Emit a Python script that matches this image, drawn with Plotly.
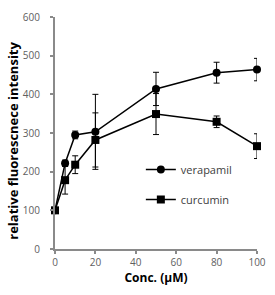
import plotly.graph_objects as go

conc = [0, 5, 10, 20, 50, 80, 100]
verapamil = [100, 222, 295, 303, 414, 456, 464]
verapamil_err = [5, 8, 10, 97, 43, 27, 29]
curcumin = [100, 178, 218, 282, 349, 329, 266]
curcumin_err = [5, 36, 23, 70, 53, 15, 32]

x_ticks = [0, 20, 40, 60, 80, 100]
y_ticks = [0, 100, 200, 300, 400, 500, 600]

font_family = "Open Sans, Noto Sans, sans-serif"
axis_col = "#8a8a8a"
tick_col = "#606060"

fig = go.Figure()
fig.add_trace(go.Scatter(
    x=conc, y=verapamil, name="verapamil", mode="lines+markers",
    line=dict(color="black", width=1.5),
    marker=dict(symbol="circle", size=8, color="black"),
    error_y=dict(type="data", array=verapamil_err, visible=True,
                 color="black", thickness=1, width=3),
    legendgroup="a", cliponaxis=False,
))
fig.add_trace(go.Scatter(
    x=conc, y=curcumin, name="curcumin", mode="lines+markers",
    line=dict(color="black", width=1.5),
    marker=dict(symbol="square", size=8, color="black"),
    error_y=dict(type="data", array=curcumin_err, visible=True,
                 color="black", thickness=1, width=3),
    legendgroup="b", cliponaxis=False,
))

fig.update_layout(
    width=275, height=295,
    margin=dict(l=55, r=9, t=9, b=46),
    paper_bgcolor="white", plot_bgcolor="white",
    font=dict(family=font_family, size=10, color=tick_col),
    showlegend=True,
    legend=dict(x=0.425, y=0.405, xanchor="left", yanchor="top",
                bgcolor="rgba(0,0,0,0)", tracegroupgap=11,
                font=dict(size=11, color="#404040", family=font_family)),
    xaxis=dict(
        range=[0, 100], tickvals=x_ticks, showgrid=False, zeroline=False,
        showline=True, linecolor=axis_col, linewidth=2,
        ticks="outside", ticklen=3, tickcolor=axis_col, tickwidth=1.5,
        tickfont=dict(size=10, color=tick_col),
        title=dict(text="<b>Conc. (μM)</b>", font=dict(size=12, color="black"), standoff=6),
    ),
    yaxis=dict(
        range=[0, 600], tickvals=y_ticks, showgrid=False, zeroline=False,
        showline=True, linecolor=axis_col, linewidth=2,
        ticks="outside", ticklen=3, tickcolor=axis_col, tickwidth=1.5,
        tickfont=dict(size=10, color=tick_col), ticklabelstandoff=8,
    ),
    annotations=[dict(
        text="<b>relative fluorescnece intensity</b>", textangle=-90,
        xref="paper", yref="paper", x=-0.205, y=0.465,
        xanchor="center", yanchor="middle", showarrow=False,
        font=dict(size=13, color="black", family=font_family),
    )],
)

fig.write_html("out.html")
